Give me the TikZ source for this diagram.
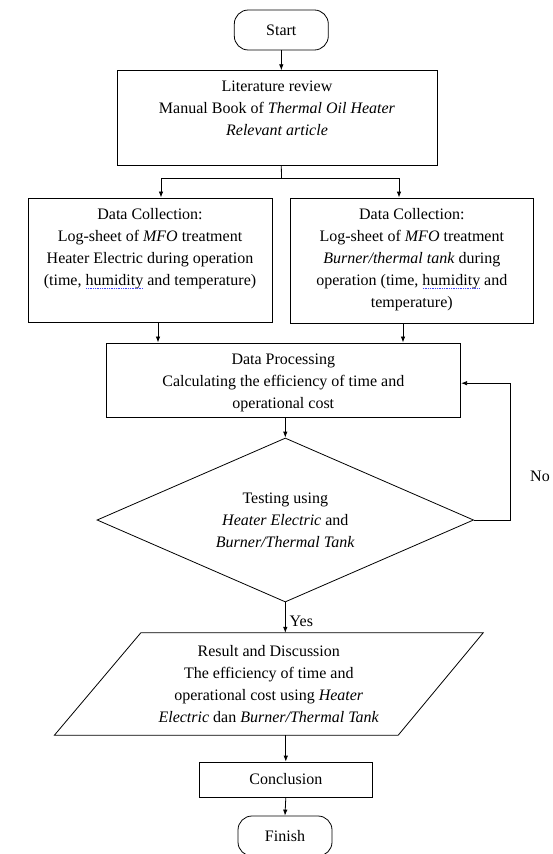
\documentclass[tikz,border=0pt]{standalone}
\usepackage{fontspec}
\setmainfont{LiberationSerif}[Extension=.ttf, UprightFont=*-Regular, ItalicFont=*-Italic, BoldFont=*-Bold, BoldItalicFont=*-BoldItalic]
\usetikzlibrary{shapes.geometric,arrows.meta}
\newcommand\bxt[4]{\parbox[c][#2][t]{#1}{\centering\vspace*{#3}\strut #4}}
\newcommand\squig[1]{\setbox0=\hbox{#1}\rlap{#1}\raisebox{-3pt}{\color{blue!75!white}\hbox to \wd0{\xleaders\hbox to 1.7pt{\hss\rule{0.9pt}{0.8pt}\hss}\hfill}}}
\tikzset{
  box/.style={draw, line width=0.8pt, inner sep=0pt},
  term/.style={draw, line width=0.8pt, rounded corners=14pt, inner sep=0pt},
  decide/.style={draw, line width=0.8pt, diamond, aspect=2.3, inner sep=0pt, align=center},
  arr/.style={line width=0.8pt, -{Latex[length=6pt,width=4.5pt]}},
  ln/.style={line width=0.8pt},
}
\begin{document}
\begin{tikzpicture}[x=1pt,y=-1pt,font=\fontsize{16}{22}\selectfont]
\useasboundingbox (0,0) rectangle (552,854);

\node[term, minimum width=94pt, minimum height=40pt] (start) at (281.3,30) {Start};

\node[box] (lit) at (277,118.2) {\bxt{320pt}{95pt}{5.4pt}{Literature review\\Manual Book of \textit{Thermal Oil Heater}\\\textit{Relevant article}}};

\node[box] (lb) at (150,260.2) {\bxt{244pt}{124.5pt}{6pt}{Data Collection:\\Log-sheet of \textit{MFO} treatment\\Heater Electric during operation\\(time, \squig{humidity} and temperature)}};

\node[box] (rb) at (411.8,260.5) {\bxt{243.5pt}{125pt}{6pt}{Data Collection:\\Log-sheet of \textit{MFO} treatment\\\textit{Burner/thermal tank} during\\operation (time, \squig{humidity} and\\temperature)}};

\node[box] (dp) at (283.3,380.2) {\bxt{354.7pt}{74.5pt}{6pt}{Data Processing\\Calculating the efficiency of time and\\operational cost}};

\node[decide, minimum width=376.6pt, minimum height=164pt] (diam) at (285.3,520) {Testing using\\\textit{Heater Electric} and\\\textit{Burner/Thermal Tank}};

\node[inner sep=0pt, minimum width=428.4pt, minimum height=102pt, align=center] (rd) at (268.8,684) {Result and Discussion\\The efficiency of time and\\operational cost using \textit{Heater}\\\textit{Electric} dan \textit{Burner/Thermal Tank}};
\draw[ln] ([xshift=86.4pt]rd.north west) -- (rd.north east) -- ([xshift=-85pt]rd.south east) -- (rd.south west) -- cycle;

\node[box, minimum width=173.5pt, minimum height=35pt] (concl) at (285.8,779.5) {Conclusion};

\node[term, minimum width=94pt, minimum height=40pt] (fin) at (285,836) {Finish};

\node[anchor=west, inner sep=0pt] (no) at (530,476) {No};

% connectors
\draw[arr] (start.south) -- (start.south |- lit.north);
\coordinate (br) at (281.5,178);
\draw[ln] (start.south |- lit.south) -- (br);
\draw[arr] (br) -| ([xshift=11pt]lb.north);
\draw[arr] (br) -| ([xshift=-12.8pt]rb.north);
\draw[arr] ([xshift=8pt]lb.south) -- ([xshift=8pt]lb.south |- dp.north);
\draw[arr] ([xshift=-8.8pt]rb.south) -- ([xshift=-8.8pt]rb.south |- dp.north);
\draw[arr] (diam.north |- dp.south) -- (diam.north);
\coordinate (fb) at (510.7,0);
\draw[arr] (diam.east) -- (diam.east -| fb) |- ([yshift=-3pt]dp.east);
\draw[arr] (diam.south) -- (diam.south |- rd.north) node[pos=0.62, right, inner sep=4pt] {Yes};
\draw[arr] (concl.north |- rd.south) -- (concl.north);
\draw[arr] (concl.south) -- (fin.north);
\end{tikzpicture}
\end{document}
